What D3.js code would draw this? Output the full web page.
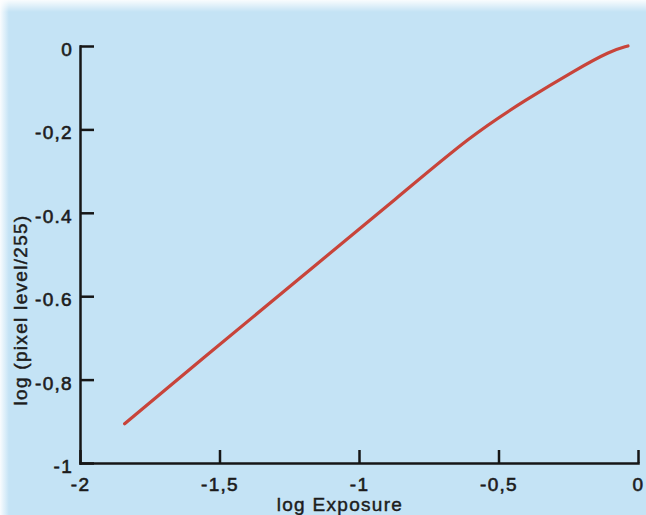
<!DOCTYPE html>
<meta charset="utf-8">
<style>
body { margin: 0; background: #c4e3f5; }
svg { display: block; font-family: "Liberation Sans", Arial, Helvetica, sans-serif; }
.axis path, .axis line { stroke: #161616; stroke-width: 2.5; }
.axis text { font-size: 19px; fill: #1c1c1c; letter-spacing: 1.3px; stroke: #1c1c1c; stroke-width: 0.6; }
.title { font-size: 19px; fill: #1c1c1c; letter-spacing: 1.3px; stroke: #1c1c1c; stroke-width: 0.45; }
</style>
<body>
<svg width="646" height="515"></svg>
<script src="https://cdnjs.cloudflare.com/ajax/libs/d3/7.8.5/d3.min.js"></script>
<script>
// values
var exposure = [-1.84, -1.57, -1.22, -0.85, -0.6, -0.4, -0.22, -0.1, -0.036];
var level    = [-0.906, -0.755, -0.561, -0.357, -0.215, -0.128, -0.056, -0.012, 0.0];

var xTicks = [-2, -1.5, -1, -0.5, 0],
    xTickLabels = ["-2", "-1,5", "-1", "-0,5", "0"];
var yTicks = [0, -0.2, -0.4, -0.6, -0.8, -1],
    yTickLabels = ["0", "-0,2", "-0.4", "-0.6", "-0,8", "-1"];

var svg = d3.select("svg"),
    width = +svg.attr("width"),
    height = +svg.attr("height");

// washed-out scan edges
var defs = svg.append("defs");
var gTop = defs.append("linearGradient").attr("id", "fadeTop").attr("x1", 0).attr("x2", 0).attr("y1", 0).attr("y2", 1);
gTop.append("stop").attr("offset", "0%").attr("stop-color", "#fff").attr("stop-opacity", 0.9);
gTop.append("stop").attr("offset", "100%").attr("stop-color", "#fff").attr("stop-opacity", 0);
var gLeft = defs.append("linearGradient").attr("id", "fadeLeft");
gLeft.append("stop").attr("offset", "0%").attr("stop-color", "#fff").attr("stop-opacity", 0.9);
gLeft.append("stop").attr("offset", "100%").attr("stop-color", "#fff").attr("stop-opacity", 0);

svg.append("rect").attr("width", width).attr("height", height).attr("fill", "#c4e3f5");
svg.append("rect").attr("width", width).attr("height", 12).attr("fill", "url(#fadeTop)");
svg.append("rect").attr("width", 9).attr("height", height).attr("fill", "url(#fadeLeft)");

var x = d3.scaleLinear().domain([-2, 0]).range([80, 638]);
var y = d3.scaleLinear().domain([-1, 0]).range([463, 46]);

var xAxis = d3.axisBottom(x)
    .tickValues(xTicks)
    .tickSizeInner(-13)
    .tickSizeOuter(0)
    .tickPadding(10)
    .tickFormat(function(d, i) { return xTickLabels[i]; });

var yAxis = d3.axisLeft(y)
    .tickValues(yTicks)
    .tickSizeInner(-14)
    .tickSizeOuter(0)
    .tickPadding(7)
    .tickFormat(function(d, i) { return yTickLabels[i]; });

svg.append("g")
    .attr("class", "axis")
    .attr("transform", "translate(0," + y(-1) + ")")
    .call(xAxis)
    .call(function(g) { g.selectAll("text").attr("dy", "0.93em"); });

svg.append("g")
    .attr("class", "axis")
    .attr("transform", "translate(" + x(-2) + ",0)")
    .call(yAxis)
    .call(function(g) { g.selectAll("text").attr("dy", "0.5em"); });

svg.selectAll(".axis .domain").attr("stroke-linecap", "square");
svg.selectAll(".axis text").attr("font-family", null).attr("font-size", null);

svg.append("text")
    .attr("class", "title")
    .attr("x", 340)
    .attr("y", 511)
    .attr("text-anchor", "middle")
    .text("log  Exposure");

svg.append("text")
    .attr("class", "title")
    .attr("transform", "translate(27,310) rotate(-90)")
    .attr("text-anchor", "middle")
    .text("log  (pixel level/255)");

var line = d3.line()
    .x(function(d, i) { return x(exposure[i]); })
    .y(function(d) { return y(d); })
    .curve(d3.curveBasis);

svg.append("path")
    .datum(level)
    .attr("d", line)
    .attr("fill", "none")
    .attr("stroke", "#c8443a")
    .attr("stroke-width", 3.2)
    .attr("stroke-linecap", "round");
</script>
</body>
